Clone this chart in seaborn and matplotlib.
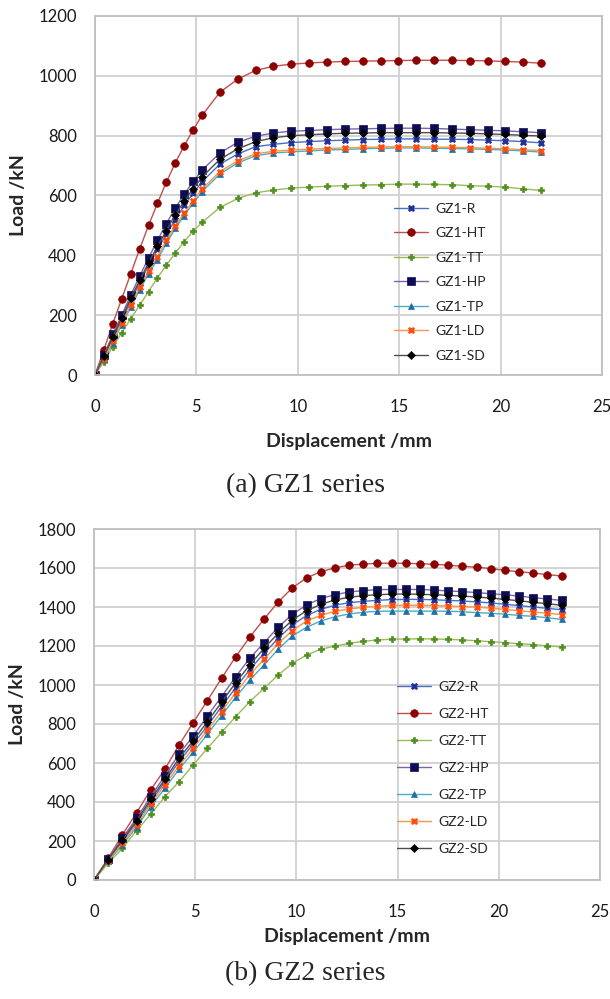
import numpy as np
import pandas as pd
import matplotlib
matplotlib.use("Agg")
import matplotlib.pyplot as plt
import seaborn as sns

# ---------------- data ----------------
# GZ1 displacement (mm)
x1 = [0.0, 0.44, 0.88, 1.32, 1.76, 2.2, 2.64, 3.08, 3.52, 3.96, 4.4, 4.84, 5.28,
      6.16, 7.04, 7.92, 8.8, 9.68, 10.56, 11.44, 12.32, 13.2, 14.08, 14.96, 15.84,
      16.72, 17.6, 18.48, 19.36, 20.24, 21.12, 22.0]
gz1_R = [0, 58, 122, 183, 247, 308, 366, 420, 471, 519, 567, 608, 646,
         705, 739, 763, 771, 777, 780, 783, 785, 787, 788, 789, 789,
         788, 788, 787, 785, 783, 780, 776]
gz1_HT = [0, 85, 172, 255, 338, 421, 500, 574, 645, 709, 767, 819, 868,
          945, 989, 1018, 1032, 1039, 1043, 1046, 1048, 1049, 1050, 1051, 1052,
          1052, 1052, 1051, 1050, 1048, 1046, 1042]
gz1_TT = [0, 45, 95, 141, 188, 233, 279, 325, 367, 408, 446, 481, 510,
          560, 590, 609, 618, 625, 628, 631, 633, 635, 636, 638, 638,
          637, 636, 633, 631, 628, 622, 617]
gz1_HP = [0, 67, 136, 200, 267, 330, 391, 450, 506, 558, 604, 647, 685,
          742, 778, 798, 809, 815, 817, 820, 822, 823, 824, 825, 825,
          824, 822, 820, 818, 816, 813, 810]
gz1_TP = [0, 52, 108, 168, 226, 284, 338, 386, 440, 490, 533, 574, 613,
          672, 709, 733, 742, 746, 749, 752, 754, 756, 758, 759, 759,
          758, 757, 756, 754, 752, 749, 745]
gz1_LD = [0, 55, 113, 175, 233, 293, 347, 396, 450, 499, 541, 582, 622,
          680, 716, 739, 748, 752, 755, 757, 759, 761, 762, 763, 763,
          762, 761, 760, 758, 756, 753, 750]
gz1_SD = [0, 62, 128, 191, 256, 316, 375, 430, 483, 536, 581, 623, 662,
          721, 756, 780, 793, 800, 803, 806, 808, 809, 810, 810, 810,
          810, 809, 808, 806, 804, 801, 799]

# GZ2 displacement (mm)
x2 = [0.0, 0.7, 1.4, 2.1, 2.8, 3.5, 4.2, 4.9, 5.6, 6.3, 7.0, 7.7, 8.4, 9.1, 9.8,
      10.5, 11.2, 11.9, 12.6, 13.3, 14.0, 14.7, 15.4, 16.1, 16.8, 17.5, 18.2,
      18.9, 19.6, 20.3, 21.0, 21.7, 22.4, 23.1]
gz2_R = [0, 102, 197, 296, 401, 504, 607, 697, 790, 889, 986, 1080, 1162, 1239, 1308,
         1356, 1388, 1409, 1422, 1429, 1434, 1438, 1439, 1439, 1437, 1434, 1431,
         1426, 1421, 1414, 1407, 1400, 1393, 1386]
gz2_HT = [0, 112, 231, 345, 462, 568, 692, 807, 920, 1034, 1145, 1246, 1338, 1426, 1498,
          1549, 1581, 1601, 1614, 1620, 1624, 1625, 1624, 1622, 1619, 1614, 1609,
          1604, 1597, 1588, 1581, 1574, 1566, 1559]
gz2_TT = [0, 86, 162, 253, 337, 427, 504, 590, 675, 757, 838, 915, 983, 1051, 1111,
          1154, 1183, 1200, 1213, 1224, 1231, 1235, 1236, 1237, 1236, 1234, 1231,
          1227, 1222, 1217, 1212, 1207, 1201, 1195]
gz2_HP = [0, 106, 214, 316, 427, 535, 646, 738, 841, 940, 1043, 1137, 1217, 1296, 1363,
          1410, 1443, 1463, 1477, 1484, 1489, 1490, 1490, 1490, 1487, 1482, 1479,
          1474, 1468, 1463, 1456, 1448, 1441, 1434]
gz2_TP = [0, 96, 179, 270, 376, 470, 568, 655, 747, 843, 937, 1026, 1103, 1183, 1252,
          1296, 1328, 1350, 1364, 1373, 1378, 1379, 1379, 1379, 1379, 1378, 1376,
          1371, 1368, 1363, 1357, 1352, 1345, 1336]
gz2_LD = [0, 100, 188, 282, 390, 487, 586, 675, 769, 863, 960, 1054, 1131, 1213, 1279,
          1328, 1357, 1378, 1390, 1398, 1403, 1408, 1409, 1409, 1407, 1405, 1402,
          1399, 1394, 1388, 1381, 1374, 1368, 1361]
gz2_SD = [0, 104, 205, 304, 414, 516, 624, 714, 812, 911, 1012, 1103, 1188, 1265, 1333,
          1381, 1413, 1436, 1450, 1458, 1463, 1466, 1467, 1465, 1463, 1460, 1456,
          1451, 1446, 1439, 1432, 1424, 1417, 1409]

suffixes = ["R", "HT", "TT", "HP", "TP", "LD", "SD"]
gz1_series = [gz1_R, gz1_HT, gz1_TT, gz1_HP, gz1_TP, gz1_LD, gz1_SD]
gz2_series = [gz2_R, gz2_HT, gz2_TT, gz2_HP, gz2_TP, gz2_LD, gz2_SD]
x_ticks = [0, 5, 10, 15, 20, 25]
y1_ticks = [0, 200, 400, 600, 800, 1000, 1200]
y2_ticks = [0, 200, 400, 600, 800, 1000, 1200, 1400, 1600, 1800]

# ---------------- style ----------------
line_colors = ["#4a6ec2", "#c0504d", "#9bbb59", "#8064a2", "#4bacc6", "#f79646", "#4d4d4d"]
marker_colors = ["#1f2f96", "#8b0000", "#4f8f1f", "#0d0d55", "#1f6fa8", "#ff4c0c", "#000000"]
markers = ["X", "o", "P", "s", "^", "X", "D"]
msizes = [4.5, 5.5, 4.0, 5.5, 5.0, 4.8, 3.8]

sns.set_theme(style="white")
plt.rcParams["font.family"] = ["Lato", "DejaVu Sans"]

W, H = 610, 999
fig = plt.figure(figsize=(W / 100, H / 100), dpi=100)


def px_axes(left, top, right, bottom):
    return fig.add_axes([left / W, 1 - bottom / H, (right - left) / W, (bottom - top) / H])


def draw(ax, x, series, prefix, yticks, legend_anchor, label_spacing, xlabelpad):
    for name, ys, lc, mc, m, ms in zip(suffixes, series, line_colors, marker_colors, markers, msizes):
        df = pd.DataFrame({"x": x, "y": ys})
        sns.lineplot(data=df, x="x", y="y", ax=ax, color=lc, lw=1.0, marker=m,
                     markersize=ms, markerfacecolor=mc, markeredgecolor=mc,
                     markeredgewidth=0.5, label=f"{prefix}-{name}", sort=False)
    ax.set_xlim(0, 25)
    ax.set_ylim(yticks[0], yticks[-1])
    ax.set_xticks(x_ticks)
    ax.set_yticks(yticks)
    ax.grid(True, color="#d0d0d0", lw=1.3)
    for sp in ax.spines.values():
        sp.set_color("#bfbfbf")
        sp.set_linewidth(1.3)
    ax.tick_params(axis="both", length=0, labelsize=12, colors="#1a1a1a")
    ax.tick_params(axis="y", pad=13)
    ax.tick_params(axis="x", pad=17)
    ax.set_xlabel("Displacement /mm", fontsize=14, fontweight="bold", labelpad=xlabelpad)
    ax.set_ylabel("Load /kN", fontsize=14, fontweight="bold", labelpad=8)
    leg = ax.legend(loc="upper left", bbox_to_anchor=legend_anchor, frameon=False,
                    fontsize=10, handlelength=2.5, handletextpad=0.5,
                    labelspacing=label_spacing, borderaxespad=0)
    return leg


ax1 = px_axes(95, 16, 602, 375)
draw(ax1, x1, gz1_series, "GZ1", y1_ticks, ((388 - 95) / 507, (375 - 197) / 359), 0.9, 13)

ax2 = px_axes(94, 529, 600, 880)
draw(ax2, x2, gz2_series, "GZ2", y2_ticks, ((391 - 94) / 506, (880 - 675) / 351), 1.08, 6)

fig.text(0.5, 1 - 486 / H, "(a) GZ1 series", ha="center", va="center",
         fontsize=20, family=["Liberation Serif", "DejaVu Serif"])
fig.text(0.5, 1 - 974 / H, "(b) GZ2 series", ha="center", va="center",
         fontsize=20, family=["Liberation Serif", "DejaVu Serif"])

fig.savefig("out.png", dpi=100)
